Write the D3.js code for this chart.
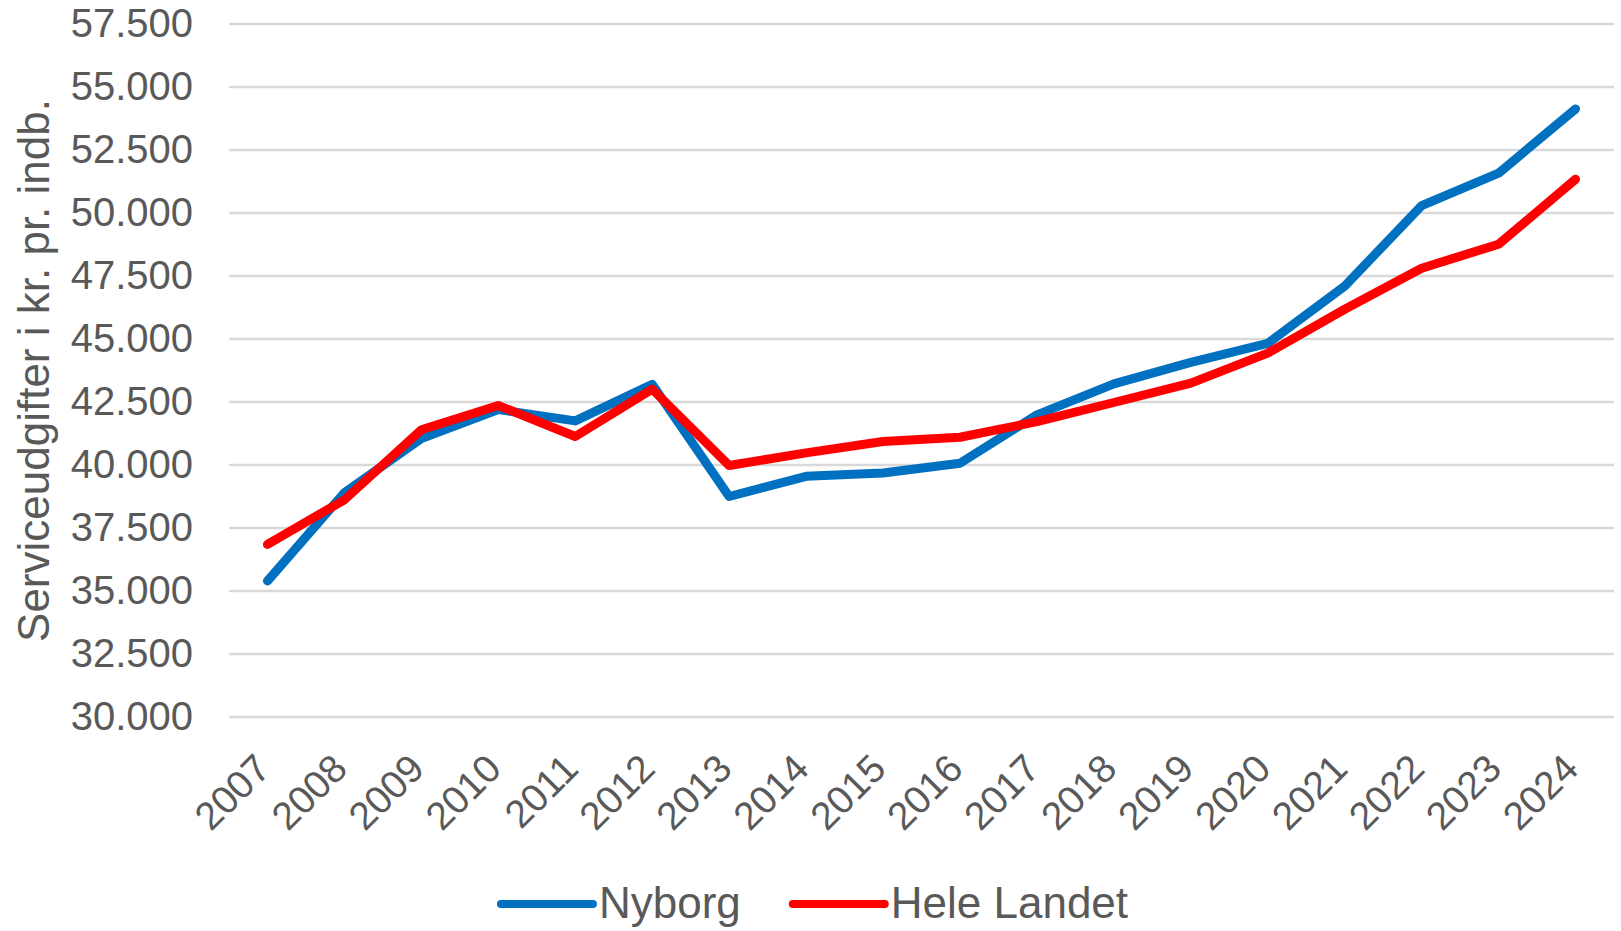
<!DOCTYPE html>
<html>
<head>
<meta charset="utf-8">
<script src="https://cdn.jsdelivr.net/npm/d3@7.9.0/dist/d3.min.js"></script>
<style>
  html, body { margin: 0; padding: 0; background: #fff; }
  svg { display: block; font-family: "Liberation Sans", Arial, sans-serif; }
</style>
</head>
<body>
<div id="chart"></div>
<script>
// data
const years = ["2007", "2008", "2009", "2010", "2011", "2012", "2013", "2014", "2015",
  "2016", "2017", "2018", "2019", "2020", "2021", "2022", "2023", "2024"];
const nyborg = [35400, 38900, 41050, 42200, 41750, 43200, 38750, 39550, 39680,
  40070, 41990, 43220, 44070, 44830, 47100, 50290, 51580, 54130];
const heleLandet = [36850, 38620, 41400, 42360, 41130, 43010, 39980, 40480, 40930,
  41100, 41720, 42480, 43250, 44440, 46180, 47810, 48760, 51340];
const yTicks = [30000, 32500, 35000, 37500, 40000, 42500, 45000, 47500, 50000, 52500, 55000, 57500];
const seriesNames = ["Nyborg", "Hele Landet"];
const seriesColors = ["#0070C0", "#FF0000"];
const yTitle = "Serviceudgifter i kr. pr. indb.";

const width = 1621;
const height = 931;
const plot = { left: 229, right: 1614, top: 24, bottom: 717 };
const textColor = "#595959";

const x = d3.scaleBand().domain(years).range([plot.left, plot.right]);
const y = d3.scaleLinear().domain([30000, 57500]).range([plot.bottom, plot.top]);
const fmt = d3.formatLocale({ decimal: ",", thousands: ".", grouping: [3] }).format(",.0f");

const svg = d3.select("#chart").append("svg")
  .attr("width", width)
  .attr("height", height);

// gridlines
svg.append("g")
  .selectAll("line")
  .data(yTicks)
  .join("line")
  .attr("x1", plot.left)
  .attr("x2", plot.right)
  .attr("y1", d => y(d))
  .attr("y2", d => y(d))
  .attr("stroke", "#d9d9d9")
  .attr("stroke-width", 2.5);

// y axis labels
const yAxis = svg.append("g")
  .attr("transform", `translate(${plot.left},0)`)
  .call(d3.axisLeft(y).tickValues(yTicks).tickFormat(fmt).tickSize(0).tickPadding(36));
yAxis.select(".domain").remove();
yAxis.selectAll("text")
  .attr("fill", textColor)
  .attr("font-size", 40)
  .attr("font-family", "Liberation Sans, Arial, sans-serif");

// x axis labels, rotated
const xAxis = svg.append("g")
  .attr("transform", `translate(0,${plot.bottom})`)
  .call(d3.axisBottom(x).tickSize(0));
xAxis.select(".domain").remove();
xAxis.selectAll("text")
  .attr("fill", textColor)
  .attr("font-size", 39)
  .attr("font-family", "Liberation Sans, Arial, sans-serif")
  .attr("text-anchor", "end")
  .attr("dy", null)
  .attr("y", null)
  .attr("transform", "translate(5,54) rotate(-45)");

// y axis title
svg.append("text")
  .attr("transform", `translate(49,${(plot.top + plot.bottom) / 2}) rotate(-90)`)
  .attr("text-anchor", "middle")
  .attr("fill", textColor)
  .attr("font-size", 44)
  .text(yTitle);

// lines
const line = d3.line()
  .x((d, i) => x(years[i]) + x.bandwidth() / 2)
  .y(d => y(d));

[nyborg, heleLandet].forEach((vals, k) => {
  svg.append("path")
    .datum(vals)
    .attr("d", line)
    .attr("fill", "none")
    .attr("stroke", seriesColors[k])
    .attr("stroke-width", 9)
    .attr("stroke-linejoin", "round")
    .attr("stroke-linecap", "round");
});

// legend
const legend = svg.append("g");
const swatch = 92;
let cx = 0;
seriesNames.forEach((name, k) => {
  const item = legend.append("g").attr("transform", `translate(${cx},0)`);
  item.append("line")
    .attr("x1", 0).attr("x2", swatch)
    .attr("y1", 904).attr("y2", 904)
    .attr("stroke", seriesColors[k])
    .attr("stroke-width", 8)
    .attr("stroke-linecap", "round");
  const t = item.append("text")
    .attr("x", swatch + 6)
    .attr("y", 918)
    .attr("fill", textColor)
    .attr("font-size", 44)
    .text(name);
  cx += swatch + 6 + t.node().getComputedTextLength() + 52;
});
const legendWidth = cx - 52;
legend.attr("transform", `translate(${width / 2 - legendWidth / 2 + 4},0)`);
</script>
</body>
</html>
